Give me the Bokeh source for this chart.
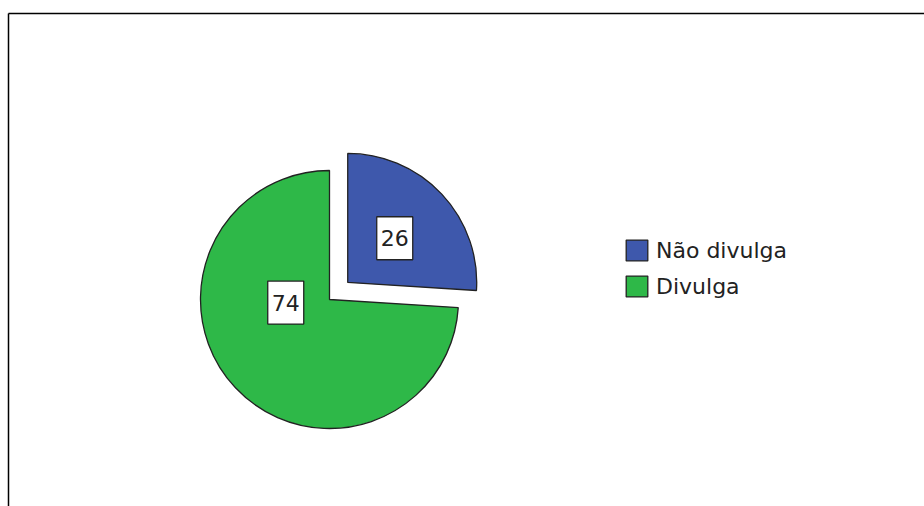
import numpy as np
from bokeh.plotting import figure
from bokeh.models import ColumnDataSource, Range1d, Legend, LegendItem
from bokeh.core.properties import value
from bokeh.embed import file_html
from bokeh.resources import INLINE

categories = ["Não divulga", "Divulga"]
values = [26, 74]
colors = ["#3E58AC", "#2EB848"]

W, H = 924, 506
p = figure(width=W, height=H, output_backend="svg", toolbar_location=None,
           x_range=Range1d(0, W), y_range=Range1d(0, H), min_border=0)
p.axis.visible = False
p.grid.visible = False
p.outline_line_color = None
p.background_fill_color = "white"

# frame lines (top and left)
p.segment(x0=[8, 8], y0=[H - 13, H - 13], x1=[W, 8], y1=[H - 13, 0],
          line_color="black", line_width=1.5)

# pie geometry
cx, cy, r = 329, 207, 129
explode = [25, 0]
vals = np.array(values, dtype=float)
frac = vals / vals.sum()
cum = np.concatenate([[0], np.cumsum(frac)])
start = np.deg2rad(90 - 360 * cum[:-1])
end = np.deg2rad(90 - 360 * cum[1:])
mid = (start + end) / 2
xs = cx + np.array(explode) * np.cos(mid)
ys = cy + np.array(explode) * np.sin(mid)

src = ColumnDataSource(dict(x=xs, y=ys, start=start, end=end, color=colors,
                            cat=categories, label=[str(v) for v in values]))
wr = p.wedge(x="x", y="y", radius=r, start_angle="start", end_angle="end",
             direction="clock", fill_color="color", line_color="#222222",
             line_width=1.3, source=src)

# label positions
lab_ang = np.array([mid[0], np.deg2rad(184)])
lab_dist = np.array([0.5, 0.34]) * r
lx = xs + lab_dist * np.cos(lab_ang)
ly = ys + lab_dist * np.sin(lab_ang)
lsrc = ColumnDataSource(dict(x=lx, y=ly, label=[str(v) for v in values]))
p.rect(x="x", y="y", width=36, height=43, fill_color="white",
       line_color="#222222", line_width=1.3, source=lsrc)
p.text(x="x", y="y", text="label", text_align="center", text_baseline="middle",
       text_font=value("DejaVu Sans"), text_font_size="22px",
       text_color="#222222", source=lsrc)

legend = Legend(items=[LegendItem(label=categories[i], renderers=[wr], index=i)
                       for i in range(len(categories))],
                location=(623, 207), orientation="vertical",
                glyph_width=27, glyph_height=26, spacing=10, padding=0,
                margin=0, label_standoff=6,
                label_text_font="DejaVu Sans", label_text_font_size="22px",
                label_text_color="#222222",
                border_line_color=None, background_fill_alpha=0)
p.add_layout(legend, "center")

open("out.html", "w").write(file_html(p, INLINE))
